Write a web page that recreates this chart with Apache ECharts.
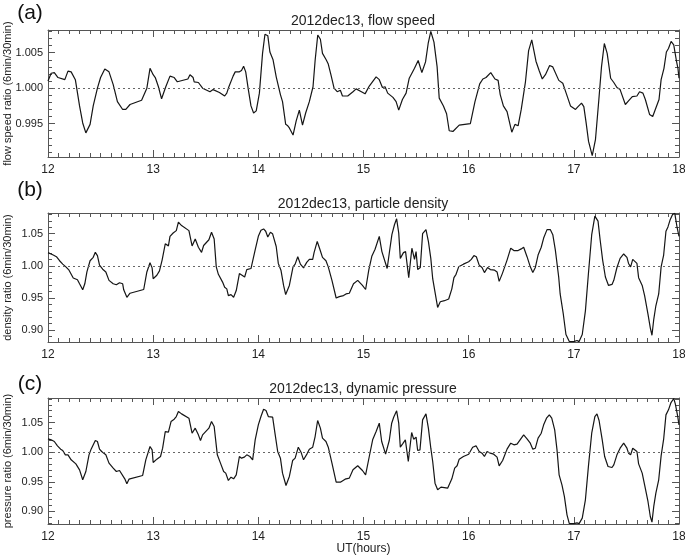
<!DOCTYPE html>
<html>
<head>
<meta charset="utf-8">
<title>2012dec13 ratios</title>
<script src="https://cdn.jsdelivr.net/npm/echarts@6/dist/echarts.min.js"></script>
<style>
  html, body { margin: 0; padding: 0; background: #fff; }
  #main { width: 685px; height: 555px; }
</style>
</head>
<body>
<div id="main"></div>
<script>
// panel texts
const panelTags = ['(a)', '(b)', '(c)'];
const panelTitles = ['2012dec13, flow speed', '2012dec13, particle density', '2012dec13, dynamic pressure'];
const yNames = ['flow speed ratio (6min/30min)', 'density ratio (6min/30min)', 'pressure ratio (6min/30min)'];
const xName = 'UT(hours)';

// UT hour, ratio
const flowSpeed = [
  [12.000, 1.0010], [12.030, 1.0021], [12.060, 1.0022], [12.095, 1.0015], [12.160, 1.0012],
  [12.190, 1.0024], [12.220, 1.0023], [12.260, 1.0012], [12.300, 0.9975], [12.330, 0.9951],
  [12.360, 0.9937], [12.400, 0.9949], [12.430, 0.9975], [12.470, 1.0000], [12.500, 1.0015],
  [12.540, 1.0027], [12.580, 1.0023], [12.620, 1.0005], [12.660, 0.9981], [12.710, 0.9970],
  [12.740, 0.9970], [12.780, 0.9977], [12.890, 0.9983], [12.940, 1.0000], [12.970, 1.0028],
  [13.000, 1.0019], [13.020, 1.0015], [13.050, 1.0002], [13.080, 0.9985], [13.120, 1.0002],
  [13.160, 1.0017], [13.200, 1.0015], [13.230, 1.0009], [13.330, 1.0013], [13.350, 1.0019],
  [13.380, 1.0015], [13.390, 1.0009], [13.430, 1.0008], [13.470, 1.0000], [13.540, 0.9995],
  [13.570, 0.9998], [13.630, 0.9994], [13.680, 0.9989], [13.700, 0.9993], [13.720, 1.0002],
  [13.760, 1.0017], [13.780, 1.0023], [13.820, 1.0023], [13.840, 1.0025], [13.860, 1.0031],
  [13.880, 1.0023], [13.905, 0.9998], [13.930, 0.9975], [13.955, 0.9965], [13.980, 0.9968],
  [14.010, 0.9993], [14.040, 1.0049], [14.063, 1.0076], [14.090, 1.0074], [14.110, 1.0051],
  [14.140, 1.0040], [14.170, 1.0016], [14.210, 0.9991], [14.230, 0.9981], [14.260, 0.9949],
  [14.280, 0.9947], [14.295, 0.9944], [14.330, 0.9934], [14.360, 0.9954], [14.390, 0.9969],
  [14.420, 0.9948], [14.450, 0.9965], [14.485, 0.9981], [14.520, 1.0002], [14.540, 1.0039],
  [14.565, 1.0075], [14.590, 1.0069], [14.610, 1.0049], [14.645, 1.0040], [14.665, 1.0034],
  [14.690, 1.0019], [14.720, 1.0000], [14.750, 0.9995], [14.780, 0.9997], [14.800, 0.9989],
  [14.850, 0.9989], [14.900, 0.9995], [14.930, 0.9999], [14.980, 0.9995], [15.015, 0.9992],
  [15.055, 1.0003], [15.120, 1.0016], [15.150, 1.0012], [15.180, 1.0001], [15.205, 1.0002],
  [15.230, 0.9993], [15.280, 0.9987], [15.310, 0.9981], [15.335, 0.9969], [15.370, 0.9984],
  [15.405, 0.9993], [15.435, 1.0014], [15.485, 1.0028], [15.520, 1.0039], [15.555, 1.0022],
  [15.590, 1.0037], [15.615, 1.0063], [15.640, 1.0080], [15.670, 1.0065], [15.700, 1.0030],
  [15.720, 0.9986], [15.760, 0.9975], [15.790, 0.9964], [15.815, 0.9940], [15.850, 0.9939],
  [15.910, 0.9948], [16.016, 0.9950], [16.060, 0.9981], [16.105, 1.0006], [16.135, 1.0013],
  [16.165, 1.0015], [16.210, 1.0022], [16.250, 1.0013], [16.280, 1.0011], [16.300, 0.9991],
  [16.330, 0.9975], [16.365, 0.9967], [16.410, 0.9938], [16.440, 0.9949], [16.470, 0.9947],
  [16.500, 0.9970], [16.540, 1.0009], [16.570, 1.0053], [16.600, 1.0068], [16.640, 1.0038],
  [16.670, 1.0025], [16.700, 1.0013], [16.730, 1.0019], [16.770, 1.0032], [16.800, 1.0030],
  [16.857, 1.0011], [16.895, 1.0007], [16.927, 0.9993], [16.968, 0.9975], [17.016, 0.9970],
  [17.040, 0.9974], [17.073, 0.9979], [17.095, 0.9974], [17.117, 0.9951], [17.140, 0.9925],
  [17.175, 0.9905], [17.206, 0.9928], [17.238, 0.9984], [17.263, 1.0030], [17.290, 1.0063],
  [17.317, 1.0049], [17.350, 1.0014], [17.380, 1.0008], [17.410, 1.0001], [17.440, 0.9998],
  [17.490, 0.9977], [17.520, 0.9982], [17.556, 0.9988], [17.600, 0.9989], [17.625, 0.9995],
  [17.657, 0.9993], [17.680, 0.9984], [17.720, 0.9963], [17.750, 0.9960], [17.780, 0.9972],
  [17.810, 0.9984], [17.830, 1.0012], [17.857, 1.0028], [17.880, 1.0051], [17.900, 1.0056],
  [17.925, 1.0066], [17.950, 1.0061], [17.975, 1.0039], [17.990, 1.0028], [18.000, 1.0014]
];

const density = [
  [12.000, 1.0205], [12.050, 1.0168], [12.080, 1.0142], [12.110, 1.0079], [12.140, 1.0026],
  [12.170, 0.9984], [12.200, 0.9932], [12.240, 0.9811], [12.280, 0.9784], [12.300, 0.9721],
  [12.330, 0.9627], [12.350, 0.9721], [12.370, 0.9905], [12.400, 1.0079], [12.430, 1.0132],
  [12.450, 1.0210], [12.470, 1.0158], [12.490, 1.0011], [12.520, 0.9947], [12.550, 0.9905],
  [12.580, 0.9774], [12.620, 0.9721], [12.650, 0.9705], [12.680, 0.9737], [12.710, 0.9721],
  [12.720, 0.9627], [12.750, 0.9511], [12.780, 0.9574], [12.910, 0.9632], [12.940, 0.9905],
  [12.970, 1.0047], [12.990, 0.9968], [13.000, 0.9800], [13.035, 0.9853], [13.060, 0.9921],
  [13.085, 1.0089], [13.115, 1.0342], [13.145, 1.0310], [13.160, 1.0458], [13.190, 1.0510],
  [13.220, 1.0547], [13.240, 1.0679], [13.270, 1.0626], [13.340, 1.0547], [13.370, 1.0310],
  [13.400, 1.0416], [13.430, 1.0289], [13.460, 1.0210], [13.480, 1.0316], [13.530, 1.0405],
  [13.555, 1.0521], [13.580, 1.0416], [13.600, 0.9984], [13.620, 0.9868], [13.660, 0.9747],
  [13.680, 0.9668], [13.700, 0.9642], [13.715, 0.9537], [13.740, 0.9553], [13.765, 0.9511],
  [13.790, 0.9616], [13.820, 0.9879], [13.835, 0.9853], [13.870, 0.9826], [13.890, 0.9942],
  [13.930, 0.9958], [13.945, 0.9932], [13.970, 1.0247], [14.000, 1.0458], [14.025, 1.0552],
  [14.050, 1.0573], [14.070, 1.0537], [14.090, 1.0447], [14.115, 1.0521], [14.135, 1.0500],
  [14.170, 1.0300], [14.190, 1.0037], [14.215, 0.9932], [14.240, 0.9695], [14.260, 0.9553],
  [14.295, 0.9695], [14.330, 0.9984], [14.350, 1.0026], [14.375, 1.0142], [14.400, 1.0026],
  [14.430, 0.9968], [14.460, 1.0053], [14.485, 1.0100], [14.517, 1.0100], [14.530, 1.0205],
  [14.560, 1.0379], [14.585, 1.0258], [14.610, 1.0132], [14.643, 1.0079], [14.665, 0.9984],
  [14.700, 0.9774], [14.740, 0.9500], [14.770, 0.9521], [14.810, 0.9537], [14.834, 0.9563],
  [14.865, 0.9574], [14.905, 0.9721], [14.945, 0.9774], [14.990, 0.9695], [15.020, 0.9632],
  [15.050, 0.9932], [15.080, 1.0153], [15.110, 1.0258], [15.150, 1.0458], [15.175, 1.0221],
  [15.205, 1.0063], [15.225, 0.9958], [15.245, 1.0195], [15.270, 1.0484], [15.295, 1.0642],
  [15.315, 1.0731], [15.335, 1.0510], [15.350, 1.0116], [15.380, 1.0205], [15.400, 1.0221],
  [15.430, 0.9816], [15.460, 1.0274], [15.485, 1.0100], [15.500, 1.0221], [15.515, 0.9942],
  [15.540, 0.9974], [15.562, 1.0500], [15.594, 1.0563], [15.617, 1.0379], [15.640, 1.0116],
  [15.658, 0.9800], [15.680, 0.9590], [15.705, 0.9353], [15.730, 0.9442], [15.770, 0.9458],
  [15.810, 0.9484], [15.840, 0.9642], [15.860, 0.9816], [15.880, 0.9868], [15.905, 0.9984],
  [15.950, 1.0026], [16.000, 1.0063], [16.025, 1.0100], [16.050, 1.0158], [16.073, 1.0142],
  [16.100, 1.0011], [16.127, 0.9974], [16.150, 0.9895], [16.180, 0.9974], [16.206, 0.9942],
  [16.247, 0.9932], [16.270, 0.9905], [16.290, 0.9758], [16.320, 0.9879], [16.365, 1.0089],
  [16.400, 1.0274], [16.430, 1.0237], [16.470, 1.0237], [16.500, 1.0263], [16.523, 1.0289],
  [16.555, 1.0142], [16.586, 0.9984], [16.610, 0.9895], [16.634, 0.9974], [16.660, 1.0168],
  [16.690, 1.0289], [16.713, 1.0431], [16.745, 1.0563], [16.776, 1.0563], [16.800, 1.0484],
  [16.824, 1.0247], [16.856, 0.9826], [16.870, 0.9563], [16.900, 0.9248], [16.925, 0.8932],
  [16.957, 0.8822], [17.000, 0.8822], [17.030, 0.8840], [17.050, 0.8822], [17.080, 0.8932],
  [17.110, 0.9300], [17.140, 0.9905], [17.170, 1.0484], [17.200, 1.0773], [17.230, 1.0694],
  [17.250, 1.0405], [17.274, 1.0089], [17.300, 0.9826], [17.330, 0.9695], [17.363, 0.9711],
  [17.380, 0.9774], [17.410, 0.9974], [17.440, 1.0116], [17.474, 1.0184], [17.505, 1.0132],
  [17.520, 1.0037], [17.540, 0.9984], [17.560, 1.0100], [17.600, 1.0037], [17.616, 0.9816],
  [17.650, 0.9695], [17.673, 0.9537], [17.705, 0.9248], [17.727, 0.9037], [17.743, 0.8921],
  [17.760, 0.9169], [17.780, 0.9379], [17.807, 0.9563], [17.830, 0.9984], [17.854, 1.0168],
  [17.876, 1.0537], [17.895, 1.0605], [17.917, 1.0721], [17.940, 1.0800], [17.960, 1.0815],
  [17.980, 1.0615], [18.000, 1.0458]
];

const pressure = [
  [12.000, 1.0225], [12.030, 1.0208], [12.060, 1.0180], [12.090, 1.0107], [12.120, 1.0051],
  [12.140, 1.0028], [12.165, 0.9955], [12.190, 0.9955], [12.220, 0.9871], [12.265, 0.9803],
  [12.300, 0.9702], [12.330, 0.9534], [12.360, 0.9674], [12.390, 0.9955], [12.410, 1.0051],
  [12.450, 1.0197], [12.470, 1.0180], [12.490, 1.0051], [12.510, 1.0011], [12.550, 0.9955],
  [12.580, 0.9815], [12.620, 0.9730], [12.650, 0.9674], [12.680, 0.9691], [12.690, 0.9674],
  [12.730, 0.9550], [12.750, 0.9466], [12.770, 0.9545], [12.900, 0.9607], [12.930, 0.9871],
  [12.970, 1.0096], [12.990, 1.0039], [13.000, 0.9826], [13.035, 0.9882], [13.070, 0.9927],
  [13.090, 1.0067], [13.115, 1.0348], [13.145, 1.0337], [13.170, 1.0517], [13.200, 1.0556],
  [13.220, 1.0601], [13.240, 1.0686], [13.270, 1.0646], [13.340, 1.0573], [13.370, 1.0320],
  [13.400, 1.0405], [13.430, 1.0292], [13.450, 1.0197], [13.470, 1.0292], [13.530, 1.0405],
  [13.555, 1.0517], [13.580, 1.0433], [13.610, 0.9955], [13.640, 0.9815], [13.670, 0.9674],
  [13.690, 0.9646], [13.715, 0.9522], [13.740, 0.9578], [13.765, 0.9550], [13.790, 0.9618],
  [13.820, 0.9927], [13.840, 0.9899], [13.867, 0.9916], [13.890, 0.9955], [13.920, 0.9927],
  [13.946, 0.9871], [13.970, 1.0208], [14.000, 1.0461], [14.025, 1.0601], [14.050, 1.0725],
  [14.073, 1.0702], [14.095, 1.0601], [14.114, 1.0629], [14.136, 1.0590], [14.158, 1.0320],
  [14.184, 1.0011], [14.210, 0.9899], [14.230, 0.9646], [14.263, 0.9438], [14.295, 0.9590],
  [14.326, 0.9859], [14.350, 0.9899], [14.380, 1.0084], [14.406, 1.0000], [14.430, 0.9871],
  [14.463, 0.9972], [14.485, 1.0051], [14.517, 1.0084], [14.540, 1.0264], [14.564, 1.0534],
  [14.590, 1.0405], [14.610, 1.0236], [14.643, 1.0180], [14.665, 1.0084], [14.700, 0.9815],
  [14.740, 0.9494], [14.780, 0.9494], [14.825, 0.9545], [14.865, 0.9562], [14.900, 0.9702],
  [14.945, 0.9770], [14.990, 0.9691], [15.020, 0.9618], [15.055, 0.9927], [15.087, 1.0208],
  [15.120, 1.0348], [15.150, 1.0489], [15.173, 1.0180], [15.210, 0.9966], [15.245, 1.0197],
  [15.268, 1.0489], [15.287, 1.0590], [15.315, 1.0697], [15.335, 1.0489], [15.350, 1.0084],
  [15.372, 1.0140], [15.398, 1.0208], [15.426, 0.9843], [15.458, 1.0332], [15.477, 1.0219],
  [15.500, 1.0253], [15.515, 1.0028], [15.537, 1.0039], [15.562, 1.0545], [15.594, 1.0646],
  [15.617, 1.0405], [15.640, 1.0067], [15.658, 0.9843], [15.680, 0.9477], [15.705, 0.9365],
  [15.737, 0.9410], [15.800, 0.9393], [15.840, 0.9550], [15.867, 0.9730], [15.890, 0.9770],
  [15.910, 0.9882], [15.950, 0.9927], [16.000, 0.9966], [16.038, 1.0084], [16.070, 1.0107],
  [16.100, 1.0011], [16.127, 0.9983], [16.150, 0.9927], [16.175, 1.0011], [16.206, 0.9983],
  [16.238, 0.9966], [16.270, 0.9916], [16.290, 0.9770], [16.323, 0.9859], [16.365, 1.0051],
  [16.400, 1.0152], [16.430, 1.0124], [16.460, 1.0135], [16.475, 1.0163], [16.523, 1.0292],
  [16.555, 1.0225], [16.586, 1.0152], [16.610, 1.0051], [16.634, 1.0067], [16.660, 1.0236],
  [16.690, 1.0320], [16.713, 1.0461], [16.740, 1.0573], [16.767, 1.0629], [16.790, 1.0573],
  [16.818, 1.0376], [16.840, 1.0039], [16.860, 0.9618], [16.887, 0.9449], [16.910, 0.9253],
  [16.935, 0.8943], [16.957, 0.8795], [17.000, 0.8795], [17.030, 0.8808], [17.050, 0.8795],
  [17.080, 0.8887], [17.110, 0.9196], [17.140, 0.9786], [17.170, 1.0320], [17.200, 1.0601],
  [17.220, 1.0646], [17.240, 1.0534], [17.270, 1.0208], [17.293, 0.9927], [17.325, 0.9758],
  [17.363, 0.9741], [17.380, 0.9786], [17.410, 0.9955], [17.440, 1.0067], [17.474, 1.0152],
  [17.505, 1.0067], [17.520, 0.9983], [17.540, 0.9955], [17.560, 1.0067], [17.600, 1.0011],
  [17.616, 0.9803], [17.650, 0.9646], [17.673, 0.9449], [17.705, 0.9168], [17.727, 0.8915],
  [17.743, 0.8820], [17.760, 0.9084], [17.780, 0.9309], [17.807, 0.9534], [17.830, 0.9938],
  [17.854, 1.0219], [17.876, 1.0629], [17.900, 1.0714], [17.924, 1.0837], [17.950, 1.0905],
  [17.965, 1.0815], [17.987, 1.0613], [18.000, 1.0461]
];

// axis ranges of the three panels
const hourRange = [12, 18];
const yRanges = [[0.9903, 1.0082], [0.8816, 1.0821], [0.8788, 1.0914]];
const yDigits = [3, 2, 2];

const seriesData = [flowSpeed, density, pressure];

// layout
const gridTops = [30, 213, 398];
const gridHeights = [127, 129, 126];
const gridLeft = 48, gridRight = 6;

var chart = echarts.init(document.getElementById('main'), null, { renderer: 'canvas' });

const axisColor = '#555';
const fontFamily = 'Liberation Sans, Arial, sans-serif';

function xAxisFor(i, pos) {
  return {
    type: 'value',
    gridIndex: i,
    position: pos,
    min: hourRange[0],
    max: hourRange[1],
    interval: 1,
    axisLine: { show: true, onZero: false, lineStyle: { color: axisColor, width: 1 } },
    axisTick: { show: true, inside: true, length: 7, lineStyle: { color: axisColor } },
    minorTick: { show: true, splitNumber: 10, length: 4, lineStyle: { color: axisColor } },
    splitLine: { show: false },
    axisLabel: {
      show: pos === 'bottom',
      margin: 7,
      color: '#222',
      fontSize: 12,
      fontFamily: fontFamily
    },
    name: (pos === 'bottom' && i === 2) ? xName : '',
    nameLocation: 'middle',
    nameGap: 19,
    nameMoveOverlap: false,
    nameTextStyle: { color: '#222', fontSize: 12, fontFamily: fontFamily }
  };
}

function yAxisFor(i, pos) {
  return {
    type: 'value',
    gridIndex: i,
    position: pos,
    min: yRanges[i][0],
    max: yRanges[i][1],
    splitNumber: i === 0 ? 3 : 4,
    axisLine: { show: true, onZero: false, lineStyle: { color: axisColor, width: 1 } },
    axisTick: { show: true, inside: true, length: 7, lineStyle: { color: axisColor } },
    minorTick: { show: true, splitNumber: 5, length: 4, lineStyle: { color: axisColor } },
    splitLine: { show: false },
    axisLabel: {
      show: pos === 'left',
      showMinLabel: false,
      showMaxLabel: false,
      margin: 5,
      color: '#222',
      fontSize: 11,
      fontFamily: fontFamily,
      formatter: function (v) { return v.toFixed(yDigits[i]); }
    },
    name: pos === 'left' ? yNames[i] : '',
    nameLocation: 'middle',
    nameGap: 35,
    nameMoveOverlap: false,
    nameTextStyle: { color: '#222', fontSize: 11, fontFamily: fontFamily }
  };
}

const grid = [], xAxis = [], yAxis = [], series = [], graphic = [];
for (let i = 0; i < 3; i++) {
  grid.push({
    left: gridLeft, right: gridRight, top: gridTops[i], height: gridHeights[i],
    containLabel: false, outerBoundsMode: 'none'
  });
  xAxis.push(xAxisFor(i, 'bottom'), xAxisFor(i, 'top'));
  yAxis.push(yAxisFor(i, 'left'), yAxisFor(i, 'right'));
  series.push({
    type: 'line',
    xAxisIndex: i * 2,
    yAxisIndex: i * 2,
    data: seriesData[i],
    symbol: 'none',
    clip: true,
    lineStyle: { color: '#151515', width: 1.2 },
    markLine: {
      silent: true,
      symbol: 'none',
      label: { show: false },
      lineStyle: { color: '#666', type: [2, 3], width: 1 },
      data: [{ yAxis: 1 }]
    }
  });
  graphic.push({
    type: 'text',
    x: 363, y: gridTops[i] - 9,
    style: {
      text: panelTitles[i], fill: '#222', font: '14px ' + fontFamily,
      textAlign: 'center', textVerticalAlign: 'middle'
    }
  });
  graphic.push({
    type: 'text',
    x: 30, y: [13, 190, 384][i],
    style: {
      text: panelTags[i], fill: '#111', font: '21px ' + fontFamily,
      textAlign: 'center', textVerticalAlign: 'middle'
    }
  });
}

chart.setOption({
  animation: false,
  backgroundColor: '#fff',
  grid: grid,
  xAxis: xAxis,
  yAxis: yAxis,
  series: series,
  graphic: graphic
});
</script>
</body>
</html>
